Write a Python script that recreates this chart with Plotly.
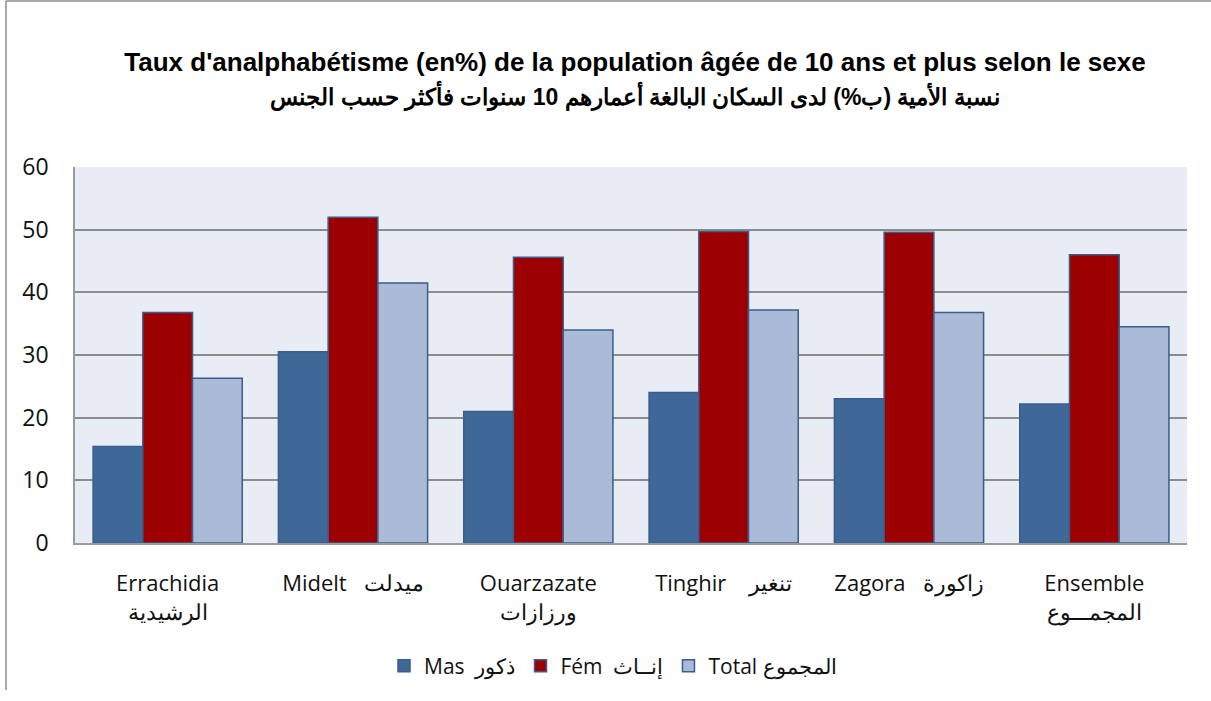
import plotly.graph_objects as go

categories = [
    "Errachidia<br>الرشيدية",
    "Midelt   ميدلت",
    "Ouarzazate<br>ورزازات",
    "Tinghir    تنغير",
    "Zagora   زاكورة",
    "Ensemble<br>المجمـــوع",
]
mas = [15.4, 30.5, 21.0, 24.0, 23.0, 22.2]
fem = [36.8, 52.0, 45.6, 49.7, 49.6, 46.0]
total = [26.3, 41.5, 34.0, 37.2, 36.8, 34.5]
series_names = ["Mas  ذكور", "Fém  إنــاث", "Total المجموع"]
y_ticks = [0, 10, 20, 30, 40, 50, 60]

title_fr = "Taux d'analphabétisme (en%) de la population âgée de 10 ans et plus selon le sexe"
title_ar = "نسبة الأمية (ب%) لدى السكان البالغة أعمارهم 10 سنوات فأكثر حسب الجنس"

colors = ["#3F6899", "#9C0000", "#AABAD7"]
outline = "#3A5E8C"

W, H = 1211, 701
L, R, T, B = 75, 24, 167, 158

fig = go.Figure()
for name, vals, c in zip(series_names, [mas, fem, total], colors):
    fig.add_trace(go.Bar(
        x=categories, y=vals, name=name,
        marker=dict(color=c, line=dict(color=outline, width=1.5)),
    ))

pw = W - L - R
ph = H - T - B
def px_x(p):
    return (p - L) / pw
def px_y(p):
    return (H - B - p) / ph

font_fam = "Open Sans, Liberation Sans, Noto Sans, sans-serif"

fig.update_layout(
    width=W, height=H,
    margin=dict(l=L, r=R, t=T, b=B),
    paper_bgcolor="white",
    plot_bgcolor="#E8ECF4",
    barmode="group",
    bargap=0.195,
    bargroupgap=0,
    font=dict(family=font_fam, size=21, color="#111111"),
    title=dict(
        text="<b>" + title_fr + "</b><br><span style='font-size:23px'><b>" + title_ar + "</b></span>",
        x=px_x(635), xanchor="center", xref="paper",
        y=1 - 71 / H, yanchor="middle",
        font=dict(family="Liberation Sans, Arial, sans-serif", size=26, color="#000000"),
    ),
    showlegend=True,
    legend=dict(
        orientation="h",
        x=px_x(613), xanchor="center",
        y=px_y(666), yanchor="middle",
        font=dict(size=21),
        traceorder="normal",
        itemwidth=30,
    ),
    xaxis=dict(
        showgrid=False,
        showline=True, linecolor="#9A9A9A", linewidth=2,
        ticks="", tickfont=dict(size=22), ticklabelstandoff=20,
    ),
    yaxis=dict(
        range=[0, 60],
        tickvals=y_ticks,
        showgrid=True, gridcolor="#8C8C8C", gridwidth=2,
        showline=True, linecolor="#9A9A9A", linewidth=1.5,
        ticks="", ticklabelstandoff=20,
        tickfont=dict(size=23),
        zeroline=False,
    ),
)

# outer chart border (left and top edges)
fig.add_shape(type="line", xref="paper", yref="paper",
              x0=px_x(6), x1=px_x(6), y0=px_y(1), y1=px_y(690),
              line=dict(color="#8C8C8C", width=1.5))
fig.add_shape(type="line", xref="paper", yref="paper",
              x0=px_x(6), x1=px_x(1211), y0=px_y(1), y1=px_y(1),
              line=dict(color="#8C8C8C", width=1.5))

fig.write_html("out.html", config={"displayModeBar": False},
               post_script="document.body.style.margin='0px';")
